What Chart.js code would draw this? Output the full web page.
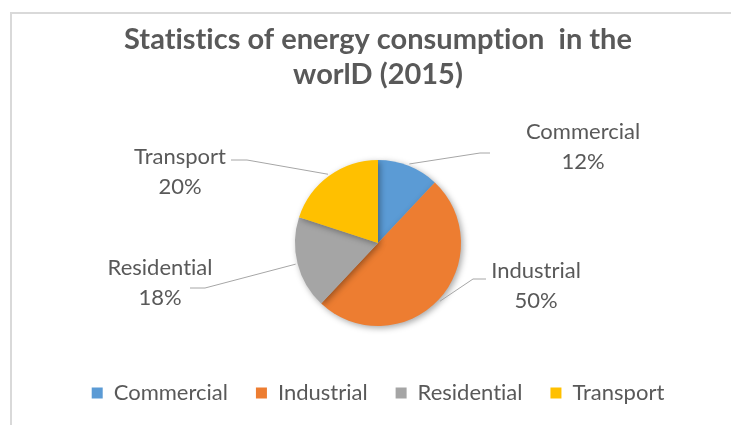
<!DOCTYPE html>
<html>
<head>
<meta charset="utf-8">
<script src="https://cdn.jsdelivr.net/npm/chart.js@4.4.0/dist/chart.umd.min.js"></script>
<style>
    html, body { margin: 0; padding: 0; background: #fff; }
    #wrap { position: relative; width: 731px; height: 425px; overflow: hidden; }
    #frame {
        position: absolute; left: 10px; top: 12px; width: 760px; height: 440px;
        border-left: 2px solid #d9d9d9; border-top: 2px solid #d9d9d9;
    }
    #chart { position: absolute; left: 0; top: 0; }
</style>
</head>
<body>
<div id="wrap">
    <div id="frame"></div>
    <canvas id="chart" width="731" height="425"></canvas>
</div>
<script>
// Data
const categories = ['Commercial', 'Industrial', 'Residential', 'Transport'];
const shares = [12, 50, 18, 20];

// Excel-like palette (base, light, dark)
const baseColors = ['#5B9BD5', '#ED7D31', '#A5A5A5', '#FFC000'];
const lightColors = ['#6EA9DF', '#F38D4C', '#B4B4B4', '#FFC92E'];
const darkColors = ['#4A88C7', '#E2691D', '#8E8E8E', '#EDB100'];

// Where each data label sits, relative to the pie centre (text centre, elbow, end of leader)
const labelSpots = [
    { text: [205, -96], elbow: [102, -90], end: [112, -90] },
    { text: [158, 43], elbow: [95, 36], end: [108, 36] },
    { text: [-218, 40], elbow: [-173, 45], end: [-188, 45] },
    { text: [-198, -71], elbow: [-131, -83], end: [-147, -83] }
];

const FONT = 'Lato, "Open Sans", sans-serif';
const TEXT_COLOR = '#595959';

// Lato joins "ti" into a ligature; a zero-width non-joiner keeps the letters apart
function noLig(s) {
    return s.replace(/ti/g, 't\u200Ci');
}

function sliceFill(context) {
    const chart = context.chart;
    const meta = chart.getDatasetMeta(0);
    const arc = meta.data[context.dataIndex];
    const i = context.dataIndex;
    if (!arc || !arc.outerRadius) return baseColors[i];
    const g = chart.ctx.createLinearGradient(0, arc.y - arc.outerRadius, 0, arc.y + arc.outerRadius);
    g.addColorStop(0, lightColors[i]);
    g.addColorStop(1, darkColors[i]);
    return g;
}

// Leader lines + two-line data labels
const dataLabels = {
    id: 'dataLabels',
    afterDatasetsDraw(chart) {
        const ctx = chart.ctx;
        const meta = chart.getDatasetMeta(0);
        const total = shares.reduce((a, b) => a + b, 0);
        ctx.save();
        meta.data.forEach((arc, i) => {
            const p = arc.getProps(['x', 'y', 'startAngle', 'endAngle', 'outerRadius'], true);
            const mid = (p.startAngle + p.endAngle) / 2;
            const spot = labelSpots[i];
            const sx = p.x + Math.cos(mid) * (p.outerRadius + 2);
            const sy = p.y + Math.sin(mid) * (p.outerRadius + 2);

            ctx.strokeStyle = '#a6a6a6';
            ctx.lineWidth = 1;
            ctx.beginPath();
            ctx.moveTo(sx, sy);
            ctx.lineTo(p.x + spot.elbow[0], p.y + spot.elbow[1]);
            ctx.lineTo(p.x + spot.end[0], p.y + spot.end[1]);
            ctx.stroke();

            const pct = Math.round(shares[i] / total * 100) + '%';
            ctx.fillStyle = TEXT_COLOR;
            ctx.font = '22px ' + FONT;
            ctx.textAlign = 'center';
            ctx.textBaseline = 'middle';
            ctx.fillText(noLig(categories[i]), p.x + spot.text[0], p.y + spot.text[1] - 15);
            ctx.fillText(pct, p.x + spot.text[0], p.y + spot.text[1] + 15);
        });
        ctx.restore();
    }
};

// soft shadow under the pie
const pieShadow = {
    id: 'pieShadow',
    beforeDatasetsDraw(chart) {
        const ctx = chart.ctx;
        ctx.save();
        ctx.shadowColor = 'rgba(0,0,0,0.35)';
        ctx.shadowBlur = 6;
        ctx.shadowOffsetX = 2;
        ctx.shadowOffsetY = 2;
    },
    afterDatasetsDraw(chart) {
        chart.ctx.restore();
    }
};

const ctx = document.getElementById('chart').getContext('2d');
const chart = new Chart(ctx, {
    type: 'pie',
    data: {
        labels: categories,
        datasets: [{
            data: shares,
            backgroundColor: sliceFill,
            borderWidth: 0,
            radius: 83
        }]
    },
    options: {
        responsive: false,
        animation: false,
        layout: {
            padding: { top: 10, left: 25, right: 0, bottom: 11 }
        },
        plugins: {
            title: {
                display: true,
                text: [noLig('Statistics of energy consumption  in the'), 'worlD (2015)'],
                color: TEXT_COLOR,
                font: { family: FONT, size: 29, weight: 'bold', lineHeight: 1.207 },
                padding: { top: 12, bottom: 40 }
            },
            legend: {
                position: 'bottom',
                labels: {
                    color: TEXT_COLOR,
                    font: { family: FONT, size: 22 },
                    boxWidth: 11,
                    boxHeight: 11,
                    padding: 28,
                    generateLabels(chart) {
                        return categories.map((c, i) => ({
                            text: noLig(c),
                            fillStyle: baseColors[i],
                            strokeStyle: baseColors[i],
                            lineWidth: 0,
                            hidden: false,
                            index: i,
                            fontColor: TEXT_COLOR
                        }));
                    }
                }
            },
            tooltip: { enabled: false }
        }
    },
    plugins: [pieShadow, dataLabels]
});
</script>
</body>
</html>
